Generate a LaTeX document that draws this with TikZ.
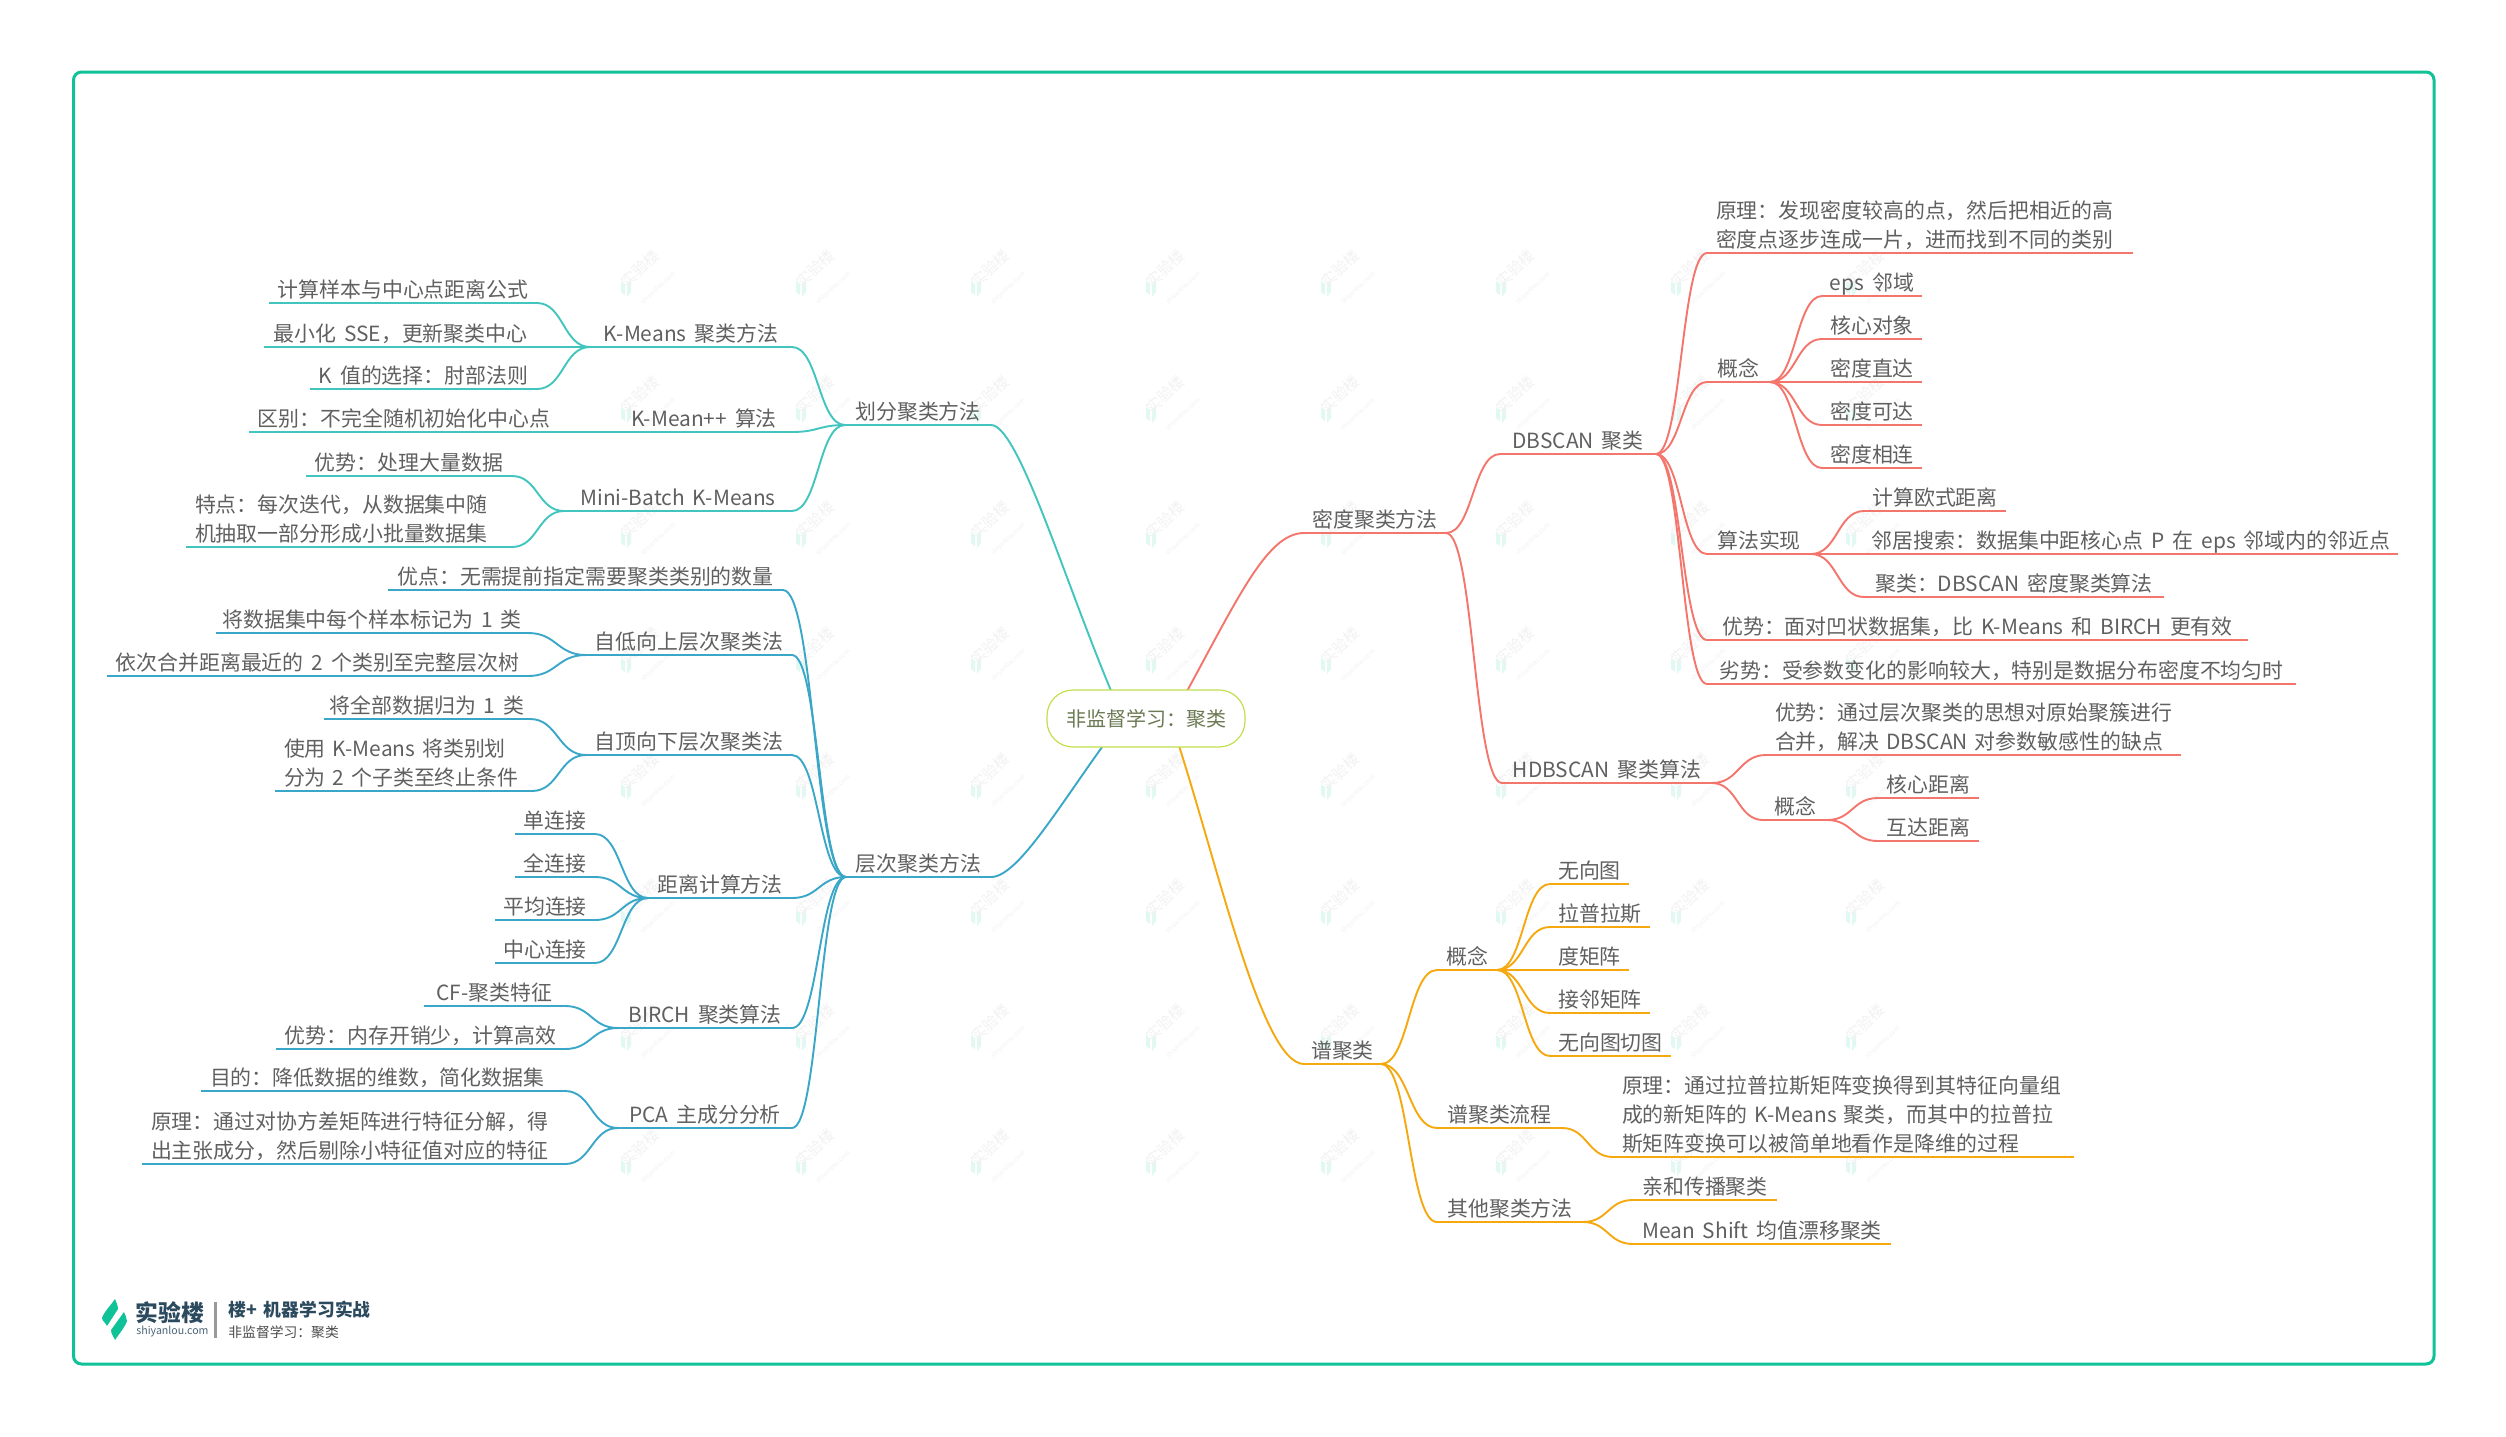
\documentclass[tikz,border=0pt]{standalone}
\usepackage{xcolor}
\usepackage{fontspec}
\setmainfont[WordSpace=1.7]{Noto Sans CJK SC}
\usepackage{tikz}
\usetikzlibrary{calc,backgrounds}
\definecolor{cframe}{HTML}{10C297}
\definecolor{cteal}{HTML}{41C5BE}
\definecolor{cblue}{HTML}{3AA7C9}
\definecolor{cred}{HTML}{F4756C}
\definecolor{cyellow}{HTML}{F5A90F}
\definecolor{croot}{HTML}{C2E04E}
\definecolor{croottext}{HTML}{6B7A53}
\definecolor{ctext}{HTML}{606060}
\definecolor{clogo}{HTML}{2C4A5E}
\tikzset{
topic/.style = {font=\fontsize{10.45}{14.4}\selectfont, text=ctext, anchor=south west, inner xsep=0pt, inner ysep=0.3pt, outer sep=0pt,
  execute at end node={\rule[-2.5pt]{0pt}{2.5pt}},
  append after command={(\tikzlastnode.south west) edge[draw=#1, line width=0.95pt] (\tikzlastnode.south east)}},
span/.style = {minimum width=#1*0.5pt},
para/.style = {minimum width=#1*0.5pt, text width=#1*0.5pt-9pt, inner xsep=4.5pt, align=left},
link/.style = {draw=#1, line width=0.95pt, line cap=round, to path={.. controls ($(\tikztostart)!0.5!(\tikztotarget |- \tikztostart)$) and ($(\tikztotarget)!0.5!(\tikztostart |- \tikztotarget)$) .. (\tikztotarget)}},
trunk/.style = {draw=#1, line width=0.95pt},
root/.style = {draw=croot, fill=white, line width=0.6pt, rounded corners=13pt, minimum width=99pt, minimum height=28.5pt, inner sep=0pt, text=croottext, font=\fontsize{10}{12}\selectfont},
wmark/.style = {rotate=42, inner sep=0pt, text=black!5, align=center},
logotext/.style = {anchor=west, inner sep=0pt, font=\fontsize{#1}{#1}\selectfont},
logobold/.style = {anchor=west, inner sep=0pt, font=\fontsize{#1}{#1}\selectfont\bfseries}
}

\begin{document}
\begin{tikzpicture}[x=0.5pt,y=-0.5pt]
    \useasboundingbox (0,0) rectangle (2506,1436);
    % root
    \node [root] (root) at (1146,718.5) {非监督学习：聚类};

    % partition methods
    \node [topic=cteal, span=146] (partition) at (845,425) {划分聚类方法};
    \node [topic=cteal, span=202] (kmeans) at (590,347) {K-Means 聚类方法};
    \draw [link=cteal] (partition.south west) to (kmeans.south east);
    \node [topic=cteal, span=268] (kdist) at (269,303) {计算样本与中心点距离公式};
    \draw [link=cteal] (kmeans.south west) to (kdist.south east);
    \node [topic=cteal, span=273] (ksse) at (264,347) {最小化 SSE，更新聚类中心};
    \draw [link=cteal] (kmeans.south west) to (ksse.south east);
    \node [topic=cteal, span=227] (kvalue) at (310,389) {K 值的选择：肘部法则};
    \draw [link=cteal] (kmeans.south west) to (kvalue.south east);
    \node [topic=cteal, span=176] (kmeanpp) at (616,432) {K-Mean++ 算法};
    \draw [link=cteal] (partition.south west) to (kmeanpp.south east);
    \node [topic=cteal, span=310] (kdiff) at (249,432) {区别：不完全随机初始化中心点};
    \draw [link=cteal] (kmeanpp.south west) to (kdiff.south east);
    \node [topic=cteal, span=228] (minibatch) at (564,511) {Mini-Batch K-Means};
    \draw [link=cteal] (partition.south west) to (minibatch.south east);
    \node [topic=cteal, span=206] (mbgood) at (306,476) {优势：处理大量数据};
    \draw [link=cteal] (minibatch.south west) to (mbgood.south east);
    \node [topic=cteal, para=326] (mbfeat) at (186,547) {特点：每次迭代，从数据集中随\\机抽取一部分形成小批量数据集};
    \draw [link=cteal] (minibatch.south west) to (mbfeat.south east);

    % hierarchical methods
    \node [topic=cblue, span=145] (hier) at (846,877) {层次聚类方法};
    \node [topic=cblue, span=395] (hadv) at (388,590) {优点：无需提前指定需要聚类类别的数量};
    \draw [link=cblue] (hier.south west) to (hadv.south east);
    \node [topic=cblue, span=206] (bottomup) at (586,655) {自低向上层次聚类法};
    \draw [link=cblue] (hier.south west) to (bottomup.south east);
    \node [topic=cblue, span=312] (bulabel) at (216,633) {将数据集中每个样本标记为 1 类};
    \draw [link=cblue] (bottomup.south west) to (bulabel.south east);
    \node [topic=cblue, span=421] (bumerge) at (107,676) {依次合并距离最近的 2 个类别至完整层次树};
    \draw [link=cblue] (bottomup.south west) to (bumerge.south east);
    \node [topic=cblue, span=206] (topdown) at (586,755) {自顶向下层次聚类法};
    \draw [link=cblue] (hier.south west) to (topdown.south east);
    \node [topic=cblue, span=206] (tdall) at (324,719) {将全部数据归为 1 类};
    \draw [link=cblue] (topdown.south west) to (tdall.south east);
    \node [topic=cblue, para=257] (tdsplit) at (275,791) {使用~K-Means~将类别划\\分为~2~个子类至终止条件};
    \draw [link=cblue] (topdown.south west) to (tdsplit.south east);
    \node [topic=cblue, span=144] (distcalc) at (648,898) {距离计算方法};
    \draw [link=cblue] (hier.south west) to (distcalc.south east);
    \node [topic=cblue, span=80] (single) at (515,834) {单连接};
    \draw [link=cblue] (distcalc.south west) to (single.south east);
    \node [topic=cblue, span=80] (complete) at (515,877) {全连接};
    \draw [link=cblue] (distcalc.south west) to (complete.south east);
    \node [topic=cblue, span=100] (average) at (495,920) {平均连接};
    \draw [link=cblue] (distcalc.south west) to (average.south east);
    \node [topic=cblue, span=100] (centroid) at (495,963) {中心连接};
    \draw [link=cblue] (distcalc.south west) to (centroid.south east);
    \node [topic=cblue, span=174] (birch) at (618,1028) {BIRCH 聚类算法};
    \draw [link=cblue] (hier.south west) to (birch.south east);
    \node [topic=cblue, span=141] (bcf) at (424,1006) {CF-聚类特征};
    \draw [link=cblue] (birch.south west) to (bcf.south east);
    \node [topic=cblue, span=289] (badv) at (276,1049) {优势：内存开销少，计算高效};
    \draw [link=cblue] (birch.south west) to (badv.south east);
    \node [topic=cblue, span=174] (pca) at (618,1128) {PCA 主成分分析};
    \draw [link=cblue] (hier.south west) to (pca.south east);
    \node [topic=cblue, para=364] (pgoal) at (201,1091) {目的：降低数据的维数，简化数据集};
    \draw [link=cblue] (pca.south west) to (pgoal.south east);
    \node [topic=cblue, para=423] (pprin) at (142,1164) {原理：通过对协方差矩阵进行特征分解，得\\出主张成分，然后剔除小特征值对应的特征};
    \draw [link=cblue] (pca.south west) to (pprin.south east);

    % density methods
    \node [topic=cred, span=142] (density) at (1304,533) {密度聚类方法};
    \node [topic=cred, span=156] (dbscan) at (1500,454) {DBSCAN 聚类};
    \draw [link=cred] (density.south east) to (dbscan.south west);
    \node [topic=cred, para=426] (dbprin) at (1707,253) {原理：发现密度较高的点，然后把相近的高\\密度点逐步连成一片，进而找到不同的类别};
    \draw [link=cred] (dbscan.south east) to (dbprin.south west);
    \node [topic=cred, span=63] (dbconcept) at (1707,382) {概念};
    \draw [link=cred] (dbscan.south east) to (dbconcept.south west);
    \node [topic=cred, span=100] (eps) at (1822,296) {eps 邻域};
    \draw [link=cred] (dbconcept.south east) to (eps.south west);
    \node [topic=cred, span=100] (coreobj) at (1822,339) {核心对象};
    \draw [link=cred] (dbconcept.south east) to (coreobj.south west);
    \node [topic=cred, span=100] (direct) at (1822,382) {密度直达};
    \draw [link=cred] (dbconcept.south east) to (direct.south west);
    \node [topic=cred, span=100] (reach) at (1822,425) {密度可达};
    \draw [link=cred] (dbconcept.south east) to (reach.south west);
    \node [topic=cred, span=100] (connect) at (1822,468) {密度相连};
    \draw [link=cred] (dbconcept.south east) to (connect.south west);
    \node [topic=cred, span=104] (dbalgo) at (1707,554) {算法实现};
    \draw [link=cred] (dbscan.south east) to (dbalgo.south west);
    \node [topic=cred, span=142] (euclid) at (1864,511) {计算欧式距离};
    \draw [link=cred] (dbalgo.south east) to (euclid.south west);
    \node [topic=cred, span=534] (neighbor) at (1864,554) {邻居搜索：数据集中距核心点 P 在 eps 邻域内的邻近点};
    \draw [link=cred] (dbalgo.south east) to (neighbor.south west);
    \node [topic=cred, span=300] (cluster) at (1864,597) {聚类：DBSCAN 密度聚类算法};
    \draw [link=cred] (dbalgo.south east) to (cluster.south west);
    \node [topic=cred, span=541] (dbgood) at (1707,640) {优势：面对凹状数据集，比 K-Means 和 BIRCH 更有效};
    \draw [link=cred] (dbscan.south east) to (dbgood.south west);
    \node [topic=cred, span=589] (dbbad) at (1707,684) {劣势：受参数变化的影响较大，特别是数据分布密度不均匀时};
    \draw [link=cred] (dbscan.south east) to (dbbad.south west);
    \node [topic=cred, span=210] (hdbscan) at (1502,783) {HDBSCAN 聚类算法};
    \draw [link=cred] (density.south east) to (hdbscan.south west);
    \node [topic=cred, para=415] (hgood) at (1766,755) {优势：通过层次聚类的思想对原始聚簇进行\\合并，解决~DBSCAN~对参数敏感性的缺点};
    \draw [link=cred] (hdbscan.south east) to (hgood.south west);
    \node [topic=cred, span=64] (hconcept) at (1763,820) {概念};
    \draw [link=cred] (hdbscan.south east) to (hconcept.south west);
    \node [topic=cred, span=101] (coredist) at (1878,798) {核心距离};
    \draw [link=cred] (hconcept.south east) to (coredist.south west);
    \node [topic=cred, span=101] (mutual) at (1878,841) {互达距离};
    \draw [link=cred] (hconcept.south east) to (mutual.south west);

    % spectral clustering
    \node [topic=cyellow, span=77] (spectral) at (1304,1064) {谱聚类};
    \node [topic=cyellow, span=60] (spconcept) at (1437,970) {概念};
    \draw [link=cyellow] (spectral.south east) to (spconcept.south west);
    \node [topic=cyellow, span=79] (undirected) at (1550,884) {无向图};
    \draw [link=cyellow] (spconcept.south east) to (undirected.south west);
    \node [topic=cyellow, span=100] (laplace) at (1550,927) {拉普拉斯};
    \draw [link=cyellow] (spconcept.south east) to (laplace.south west);
    \node [topic=cyellow, span=79] (degree) at (1550,970) {度矩阵};
    \draw [link=cyellow] (spconcept.south east) to (degree.south west);
    \node [topic=cyellow, span=100] (adjacency) at (1550,1013) {接邻矩阵};
    \draw [link=cyellow] (spconcept.south east) to (adjacency.south west);
    \node [topic=cyellow, span=121] (graphcut) at (1550,1056) {无向图切图};
    \draw [link=cyellow] (spconcept.south east) to (graphcut.south west);
    \node [topic=cyellow, span=125] (spflow) at (1437,1128) {谱聚类流程};
    \draw [link=cyellow] (spectral.south east) to (spflow.south west);
    \node [topic=cyellow, para=461] (spprin) at (1613,1157) {原理：通过拉普拉斯矩阵变换得到其特征向量组\\成的新矩阵的~K-Means~聚类，而其中的拉普拉\\斯矩阵变换可以被简单地看作是降维的过程};
    \draw [link=cyellow] (spflow.south east) to (spprin.south west);
    \node [topic=cyellow, span=146] (spother) at (1437,1222) {其他聚类方法};
    \draw [link=cyellow] (spectral.south east) to (spother.south west);
    \node [topic=cyellow, span=144] (affinity) at (1633,1200) {亲和传播聚类};
    \draw [link=cyellow] (spother.south east) to (affinity.south west);
    \node [topic=cyellow, span=258] (meanshift) at (1633,1244) {Mean Shift 均值漂移聚类};
    \draw [link=cyellow] (spother.south east) to (meanshift.south west);

    % logo
    \fill [cframe] (115,1299) .. controls (116,1302) and (118,1305) .. (118,1309) -- (107,1326) .. controls (106,1323) and (102,1321) .. (102,1318) .. controls (104,1312) and (111,1305) .. (115,1299) -- cycle;
    \fill [cframe] (115,1340) .. controls (114,1337) and (111,1334) .. (111,1330) -- (124,1312) .. controls (125,1315) and (127,1318) .. (127,1321) .. controls (125,1327) and (119,1334) .. (115,1340) -- cycle;
    \node [logobold=11.4, text=clogo] (logoname) at (135,1313) {实验楼};
    \node [logotext=5.3, text=clogo!85] (logosite) at (136,1332) {shiyanlou.com};
    \node [logobold=8.9, text=clogo] (logocourse) at (228,1310) {楼+ 机器学习实战};
    \node [logotext=6.9, text=black!70] (logotitle) at (228,1332) {非监督学习：聚类};
    \fill [black!40] (214,1302) rectangle (217,1338);

    \begin{scope}[on background layer]
    \fill [white] (0,0) rectangle (2506,1436);
    \draw [cframe, line width=1.5pt, rounded corners=4pt] (73.5,72) rectangle (2434,1364);
    % watermark grid
    \foreach \mx in {624,799,974,1149,1324,1499,1674,1849}
      \foreach \my in {289,415,540,666,792,918,1043,1168} {
        \fill [cframe!12] (\mx-3,\my-8) -- (\mx+1,\my-5) -- (\mx+1,\my+6) -- (\mx-3,\my+3) -- cycle;
        \fill [cframe!12] (\mx+3,\my-5) -- (\mx+7,\my-8) -- (\mx+7,\my+3) -- (\mx+3,\my+8) -- cycle;
        \node [wmark] (wm\mx-\my) at (\mx+24,\my-12) {\fontsize{7.6}{8}\selectfont 实验楼\\[-0.8pt]\fontsize{3.2}{4}\selectfont shiyanlou.com};
      }
    % branches out of the root
    \draw [trunk=cteal] ([xshift=-11.5pt]root.center) .. controls (1070,600) and (1020,425) .. (partition.south east);
    \draw [trunk=cblue] ([xshift=-11.5pt]root.center) .. controls (1065,795) and (1020,877) .. (hier.south east);
    \draw [trunk=cred] ([xshift=13pt]root.center) .. controls (1235,605) and (1265,533) .. (density.south west);
    \draw [trunk=cyellow] ([xshift=12pt]root.center) .. controls (1215,850) and (1260,1064) .. (spectral.south west);
    \end{scope}
\end{tikzpicture}
\end{document}
